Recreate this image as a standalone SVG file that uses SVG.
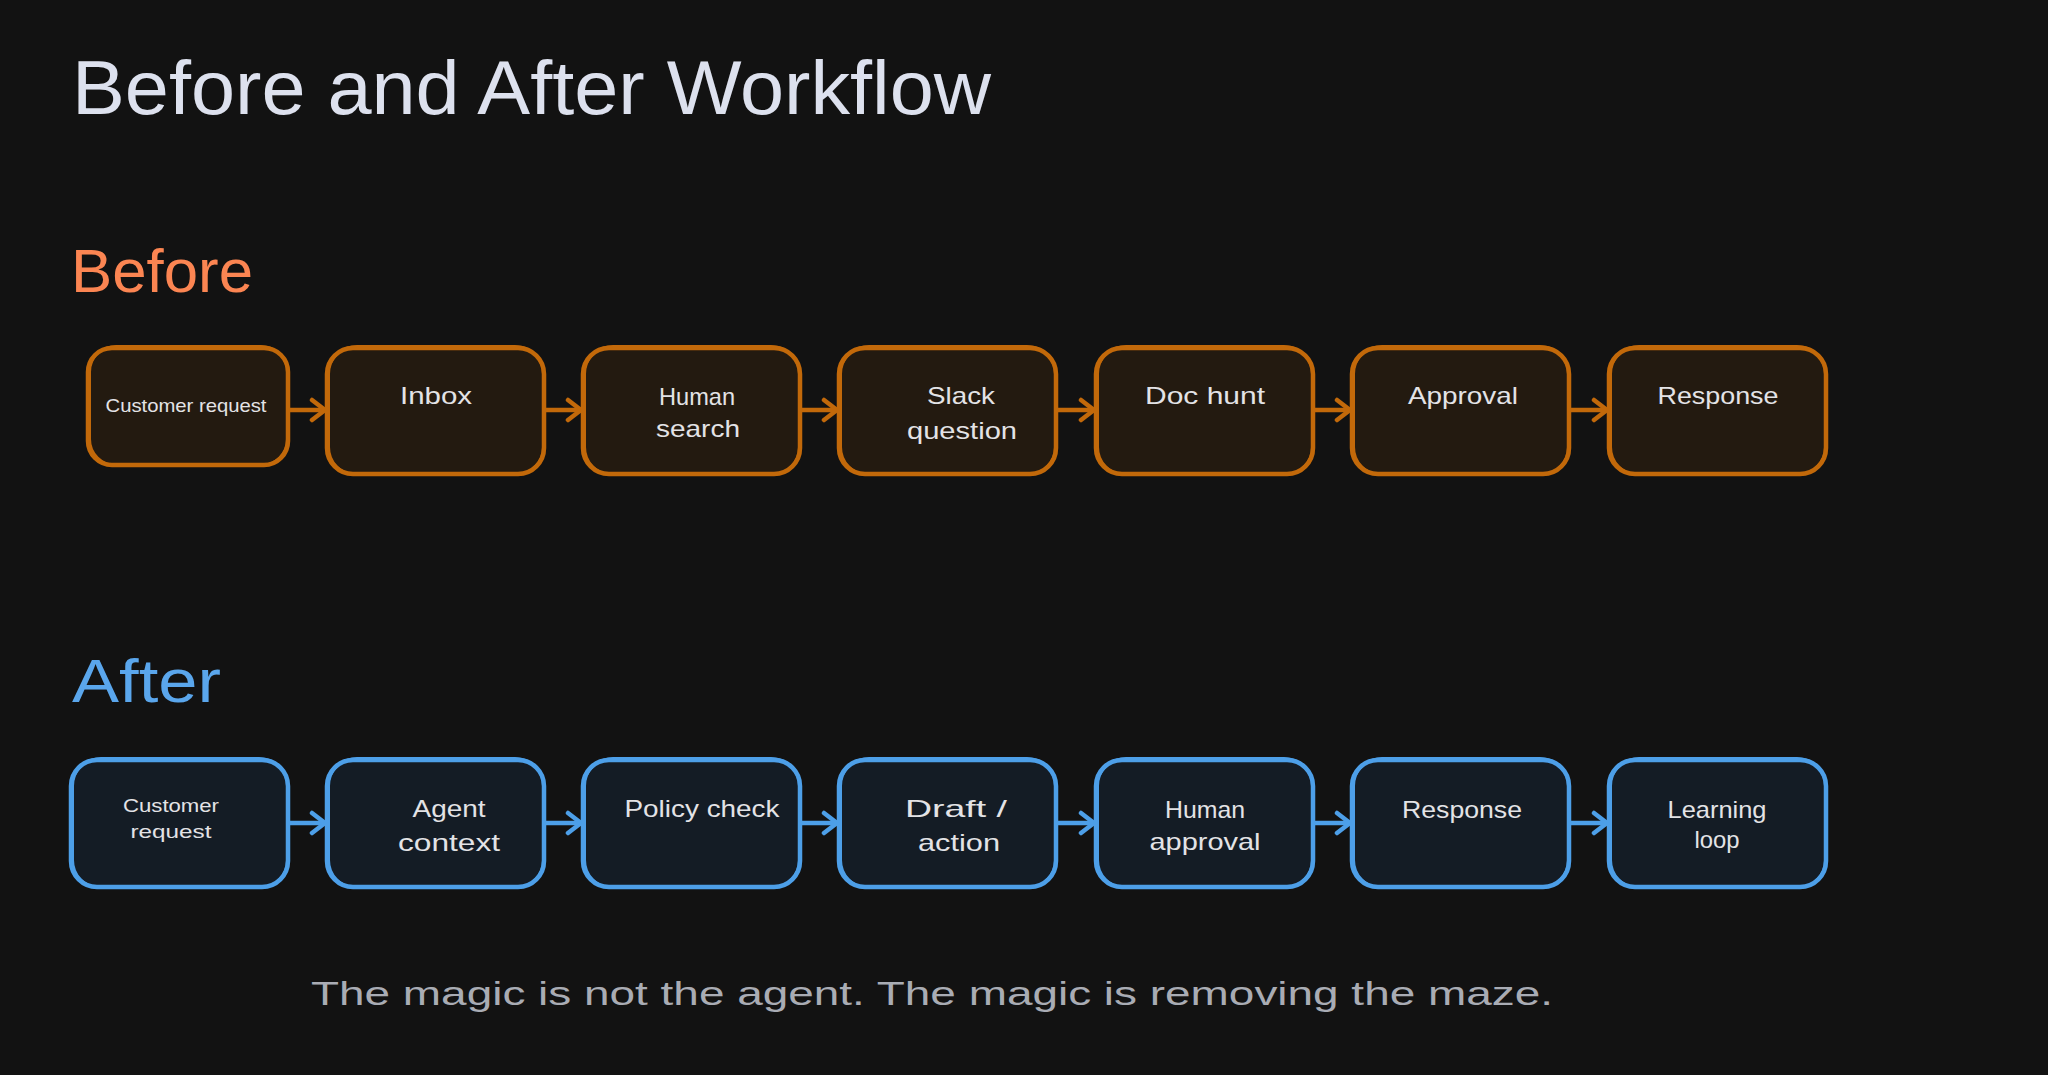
<svg xmlns="http://www.w3.org/2000/svg" width="2048" height="1075" viewBox="0 0 2048 1075">
<defs>
<style>
.bg{fill:#121212}
.title{font-family:"Liberation Sans",Arial,sans-serif;fill:#dde1ee}
.h-before{font-family:"Liberation Sans",Arial,sans-serif;fill:#fb8552}
.h-after{font-family:"Liberation Sans",Arial,sans-serif;fill:#5aa6ec}
.nb{fill:#231a10;stroke:#c2690a;stroke-width:4.5}
.nb2{fill:none;stroke:#c2690a;stroke-width:2}
.na{fill:#141c25;stroke:#4d9fe8;stroke-width:4.5}
.na2{fill:none;stroke:#4d9fe8;stroke-width:2}
.lbl{font-family:"Liberation Sans",Arial,sans-serif;fill:#e3e3e6;text-anchor:middle}
.foot{font-family:"Liberation Sans",Arial,sans-serif;fill:#a9acb4}
.cb{stroke:#c2690a;stroke-width:4.5;fill:none;stroke-linecap:round}
.ca{stroke:#4d9fe8;stroke-width:4.5;fill:none;stroke-linecap:round}
</style>
<marker id="ahb" markerUnits="userSpaceOnUse" markerWidth="30" markerHeight="30" refX="16" refY="12" orient="auto" viewBox="0 0 30 24">
<path d="M3,2 L16,12 L3,22" fill="none" stroke="#c2690a" stroke-width="4.5" stroke-linecap="round" stroke-linejoin="round"/>
</marker>
<marker id="aha" markerUnits="userSpaceOnUse" markerWidth="30" markerHeight="30" refX="16" refY="12" orient="auto" viewBox="0 0 30 24">
<path d="M3,2 L16,12 L3,22" fill="none" stroke="#4d9fe8" stroke-width="4.5" stroke-linecap="round" stroke-linejoin="round"/>
</marker>
</defs>
<rect class="bg" x="0" y="0" width="2048" height="1075"/>

<g id="title">
<text class="title" x="72" y="114" font-size="76" textLength="919" lengthAdjust="spacingAndGlyphs">Before and After Workflow</text>
</g>
<g id="label-before">
<text class="h-before" x="71" y="292" font-size="62" textLength="182" lengthAdjust="spacingAndGlyphs">Before</text>
</g>
<g id="label-after">
<text class="h-after" x="72" y="702" font-size="62" textLength="149" lengthAdjust="spacingAndGlyphs">After</text>
</g>

<g id="connectors">
<line class="cb" x1="290" y1="410" x2="325" y2="410" marker-end="url(#ahb)"/>
<line class="cb" x1="546" y1="410" x2="581" y2="410" marker-end="url(#ahb)"/>
<line class="cb" x1="802" y1="410" x2="837" y2="410" marker-end="url(#ahb)"/>
<line class="cb" x1="1058" y1="410" x2="1094" y2="410" marker-end="url(#ahb)"/>
<line class="cb" x1="1315" y1="410" x2="1350" y2="410" marker-end="url(#ahb)"/>
<line class="cb" x1="1571" y1="410" x2="1607" y2="410" marker-end="url(#ahb)"/>
<line class="ca" x1="290" y1="823" x2="325" y2="823" marker-end="url(#aha)"/>
<line class="ca" x1="546" y1="823" x2="581" y2="823" marker-end="url(#aha)"/>
<line class="ca" x1="802" y1="823" x2="837" y2="823" marker-end="url(#aha)"/>
<line class="ca" x1="1058" y1="823" x2="1094" y2="823" marker-end="url(#aha)"/>
<line class="ca" x1="1315" y1="823" x2="1350" y2="823" marker-end="url(#aha)"/>
<line class="ca" x1="1571" y1="823" x2="1607" y2="823" marker-end="url(#aha)"/>
</g>

<!-- Before row -->
<g id="b1">
<rect class="nb" x="88" y="348" width="200" height="117" rx="24"/>
<rect class="nb2" x="90" y="346" width="197" height="119" rx="26"/>
<text class="lbl" x="186" y="412" font-size="19" textLength="161" lengthAdjust="spacingAndGlyphs">Customer request</text>
</g>
<g id="b2">
<rect class="nb" x="327" y="348" width="217" height="126" rx="26"/>
<rect class="nb2" x="329" y="346" width="214" height="129" rx="28"/>
<text class="lbl" x="436" y="404" font-size="24" textLength="72" lengthAdjust="spacingAndGlyphs">Inbox</text>
</g>
<g id="b3">
<rect class="nb" x="583" y="348" width="217" height="126" rx="26"/>
<rect class="nb2" x="585" y="346" width="214" height="129" rx="28"/>
<text class="lbl" x="697" y="405" font-size="24" textLength="76" lengthAdjust="spacingAndGlyphs">Human</text>
<text class="lbl" x="698" y="437" font-size="24" textLength="84" lengthAdjust="spacingAndGlyphs">search</text>
</g>
<g id="b4">
<rect class="nb" x="839" y="348" width="217" height="126" rx="26"/>
<rect class="nb2" x="841" y="346" width="214" height="129" rx="28"/>
<text class="lbl" x="961" y="404" font-size="24" textLength="68" lengthAdjust="spacingAndGlyphs">Slack</text>
<text class="lbl" x="962" y="439" font-size="24" textLength="110" lengthAdjust="spacingAndGlyphs">question</text>
</g>
<g id="b5">
<rect class="nb" x="1096" y="348" width="217" height="126" rx="26"/>
<rect class="nb2" x="1098" y="346" width="214" height="129" rx="28"/>
<text class="lbl" x="1205" y="404" font-size="24" textLength="120" lengthAdjust="spacingAndGlyphs">Doc hunt</text>
</g>
<g id="b6">
<rect class="nb" x="1352" y="348" width="217" height="126" rx="26"/>
<rect class="nb2" x="1354" y="346" width="214" height="129" rx="28"/>
<text class="lbl" x="1463" y="404" font-size="24" textLength="110" lengthAdjust="spacingAndGlyphs">Approval</text>
</g>
<g id="b7">
<rect class="nb" x="1609" y="348" width="217" height="126" rx="26"/>
<rect class="nb2" x="1611" y="346" width="214" height="129" rx="28"/>
<text class="lbl" x="1718" y="404" font-size="24" textLength="121" lengthAdjust="spacingAndGlyphs">Response</text>
</g>

<!-- After row -->
<g id="a1">
<rect class="na" x="71" y="760" width="217" height="127" rx="26"/>
<rect class="na2" x="73" y="758" width="214" height="130" rx="28"/>
<text class="lbl" x="171" y="812" font-size="19" textLength="96" lengthAdjust="spacingAndGlyphs">Customer</text>
<text class="lbl" x="171" y="838" font-size="19" textLength="81" lengthAdjust="spacingAndGlyphs">request</text>
</g>
<g id="a2">
<rect class="na" x="327" y="760" width="217" height="127" rx="26"/>
<rect class="na2" x="329" y="758" width="214" height="130" rx="28"/>
<text class="lbl" x="449" y="817" font-size="24" textLength="73" lengthAdjust="spacingAndGlyphs">Agent</text>
<text class="lbl" x="449" y="851" font-size="24" textLength="102" lengthAdjust="spacingAndGlyphs">context</text>
</g>
<g id="a3">
<rect class="na" x="583" y="760" width="217" height="127" rx="26"/>
<rect class="na2" x="585" y="758" width="214" height="130" rx="28"/>
<text class="lbl" x="702" y="817" font-size="24" textLength="155" lengthAdjust="spacingAndGlyphs">Policy check</text>
</g>
<g id="a4">
<rect class="na" x="839" y="760" width="217" height="127" rx="26"/>
<rect class="na2" x="841" y="758" width="214" height="130" rx="28"/>
<text class="lbl" x="956" y="817" font-size="24" textLength="102" lengthAdjust="spacingAndGlyphs">Draft /</text>
<text class="lbl" x="959" y="851" font-size="24" textLength="82" lengthAdjust="spacingAndGlyphs">action</text>
</g>
<g id="a5">
<rect class="na" x="1096" y="760" width="217" height="127" rx="26"/>
<rect class="na2" x="1098" y="758" width="214" height="130" rx="28"/>
<text class="lbl" x="1205" y="818" font-size="24" textLength="80" lengthAdjust="spacingAndGlyphs">Human</text>
<text class="lbl" x="1205" y="850" font-size="24" textLength="111" lengthAdjust="spacingAndGlyphs">approval</text>
</g>
<g id="a6">
<rect class="na" x="1352" y="760" width="217" height="127" rx="26"/>
<rect class="na2" x="1354" y="758" width="214" height="130" rx="28"/>
<text class="lbl" x="1462" y="818" font-size="24" textLength="120" lengthAdjust="spacingAndGlyphs">Response</text>
</g>
<g id="a7">
<rect class="na" x="1609" y="760" width="217" height="127" rx="26"/>
<rect class="na2" x="1611" y="758" width="214" height="130" rx="28"/>
<text class="lbl" x="1717" y="818" font-size="24" textLength="99" lengthAdjust="spacingAndGlyphs">Learning</text>
<text class="lbl" x="1717" y="848" font-size="24" textLength="45" lengthAdjust="spacingAndGlyphs">loop</text>
</g>

<g id="footer">
<text class="foot" x="311" y="1005" font-size="33" textLength="1242" lengthAdjust="spacingAndGlyphs">The magic is not the agent. The magic is removing the maze.</text>
</g>
</svg>
